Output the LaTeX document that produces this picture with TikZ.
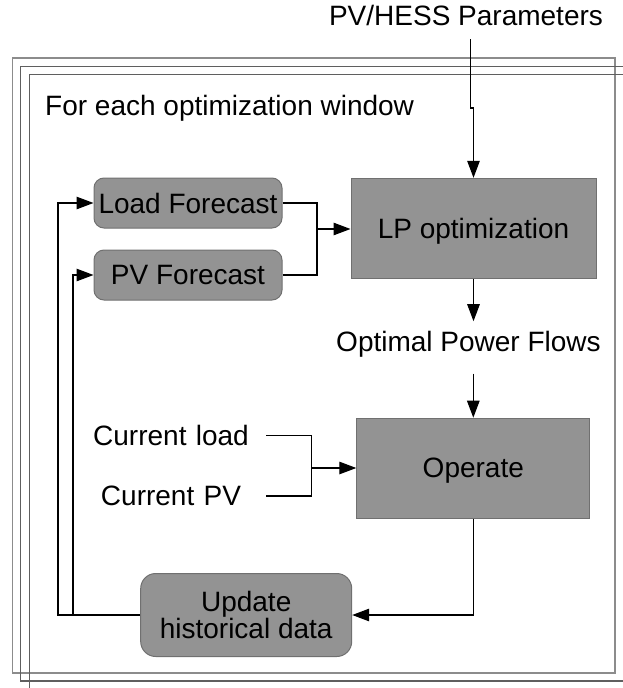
\documentclass[tikz,border=0pt]{standalone}
\usepackage{fontspec}
\setmainfont{Liberation Sans}
\usetikzlibrary{arrows.meta}
\definecolor{boxfill}{RGB}{147,147,147}
\definecolor{boxedge}{RGB}{112,112,112}
\definecolor{frameA}{RGB}{140,140,140}
\definecolor{frameB}{RGB}{95,95,95}
\begin{document}
\begin{tikzpicture}[x=1pt,y=-1pt,
  txt/.style={font=\fontsize{28}{27.6}\selectfont, inner sep=0pt},
  box/.style={txt, text depth=0pt, draw=boxedge, fill=boxfill, line width=1pt},
  rbox/.style={box, rounded corners=10pt},
  conn/.style={line width=1.2pt},
  arr/.style={conn, -{Triangle[length=17pt,width=12.5pt]}},
  frame/.style={line width=1.3pt}]
\useasboundingbox (0,0) rectangle (623,688);
\clip (0,0) rectangle (623,688);

% stacked window frames
\draw[frame, draw=frameA] (12.5,58) rectangle (615,673);
\draw[frame, draw=frameB] (20.7,66.7) rectangle (640,681);
\draw[frame, draw=frameB] (29.3,74.3) rectangle (640,700);

% labels
\node[txt, anchor=base, inner ysep=14pt] (param) at (466,25) {PV/HESS Parameters};
\node[txt, anchor=base west] (window) at (45,115.7) {For each optimization window};
\node[txt, anchor=base, inner ysep=10pt] (opf) at (468.5,351.7) {Optimal Power Flows};
\node[txt, anchor=base, text width=170pt, align=center] (cl) at (171,445.7) {Current load};
\node[txt, anchor=base, text width=170pt, align=center] (cp) at (171,505.7) {Current PV};

% process blocks
\node[rbox, minimum width=188pt, minimum height=50pt] (lf) at (188,203) {Load Forecast};
\node[rbox, minimum width=188pt, minimum height=50pt] (pf) at (188,275) {PV Forecast};
\node[box, minimum width=245pt, minimum height=100pt] (lp) at (473.5,228.3) {LP optimization};
\node[box, minimum width=233pt, minimum height=100pt] (op) at (473.3,468.2) {Operate};
\node[box, rounded corners=15pt, minimum width=211pt, minimum height=83pt, align=center]
  (up) at (246.2,615) {Update\\historical data};

% junction points
\coordinate (pj) at (470.5,108);
\coordinate (mj) at (317,229);
\coordinate (oj) at (311.7,468);
\coordinate (la) at (58,615);
\coordinate (lb) at (73,615);

% connectors
\draw[arr] (param.south -| pj) -- (pj) -| (lp.north);
\draw[conn] (lf.east) -| (mj);
\draw[conn] (pf.east) -| (mj);
\draw[arr] (mj) -- (mj -| lp.west);
\draw[arr] (lp.south) -- (lp.south |- opf.north);
\draw[arr, shorten <=6pt] (opf.south -| op.north) -- (op.north);
\draw[conn, shorten <=10pt] (cl.east) -| (oj);
\draw[conn, shorten <=10pt] (cp.east) -| (oj);
\draw[arr] (oj) -- (oj -| op.west);
\draw[arr] (op.south) |- (up.east);
\draw[arr] (up.west) -- (la) |- (lf.west);
\draw[arr] (lb) |- (pf.west);
\end{tikzpicture}
\end{document}
